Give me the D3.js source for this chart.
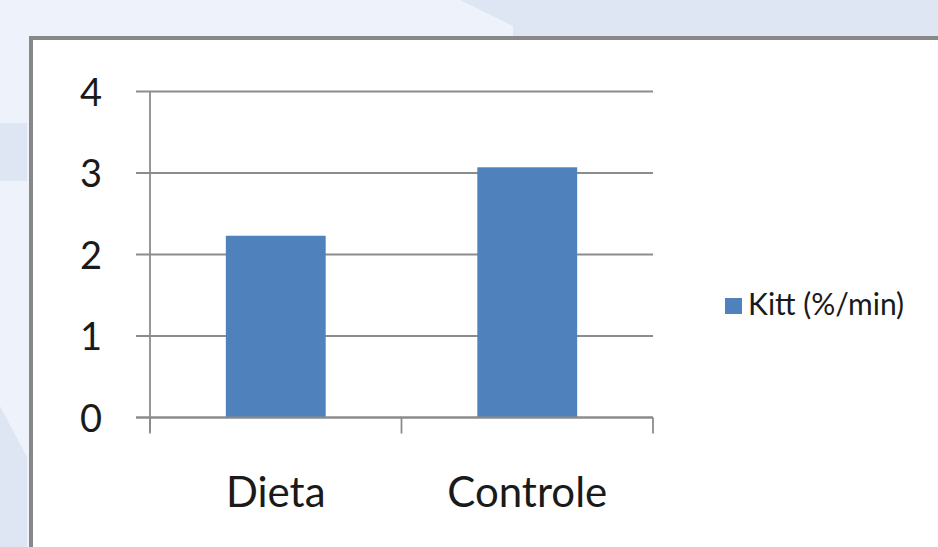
<!DOCTYPE html>
<html>
<head>
<meta charset="utf-8">
<script src="https://cdn.jsdelivr.net/npm/d3@7"></script>
<style>
  html, body { margin: 0; padding: 0; background: #eef2fa; }
  svg { display: block; }
</style>
</head>
<body>
<svg id="chart" width="938" height="547"></svg>
<script>
// Clearance rate per group
const categories = ["Dieta", "Controle"];
const kittValues = [2.23, 3.07];
const yTickValues = [0, 1, 2, 3, 4];
const seriesName = "Kitt (%/min)";

const W = 938, H = 547;
const svg = d3.select("#chart");
const FONT = "Lato, 'Open Sans', sans-serif";

// Slide backdrop: pale panels with diagonal cuts
svg.append("rect").attr("width", W).attr("height", H).attr("fill", "#eef2fa");
svg.append("path").attr("fill", "#dfe6f3")
  .attr("d", "M460,0 L938,0 L938,40 L513,40 L513,26 Z");
svg.append("rect").attr("x", 0).attr("y", 123).attr("width", 27).attr("height", 58).attr("fill", "#dfe6f3");
svg.append("path").attr("fill", "#dfe6f3")
  .attr("d", "M0,406 L27,457 L27,547 L0,547 Z");

// Chart frame
svg.append("rect").attr("x", 31).attr("y", 38).attr("width", W).attr("height", H)
  .attr("fill", "#ffffff").attr("stroke", "#888888").attr("stroke-width", 4);

// Plot area
const x0 = 150, x1 = 653, yBottom = 417.5, yTop = 91.5;

const x = d3.scaleBand().domain(categories).range([x0, x1])
  .paddingInner(0.603).paddingOuter(0.3015);
const y = d3.scaleLinear().domain([0, 4]).range([yBottom, yTop]);

// Horizontal gridlines
svg.append("g").selectAll("line").data(yTickValues).join("line")
  .attr("x1", x0 - 14).attr("x2", x1)
  .attr("y1", d => y(d)).attr("y2", d => y(d))
  .attr("stroke", "#8c8c8c").attr("stroke-width", 1.8);

// Bars
svg.append("g").selectAll("rect").data(categories).join("rect")
  .attr("x", d => x(d))
  .attr("y", (d, i) => y(kittValues[i]))
  .attr("width", x.bandwidth())
  .attr("height", (d, i) => y(0) - y(kittValues[i]))
  .attr("fill", "#4f81bd");

// Y axis
const yAxis = d3.axisLeft(y).tickValues(yTickValues).tickSize(0).tickPadding(48)
  .tickFormat(d3.format("d"));
const gy = svg.append("g").attr("transform", `translate(${x0},0)`).call(yAxis);
gy.attr("font-family", FONT);
gy.select(".domain").attr("stroke", "#8c8c8c").attr("stroke-width", 1.8)
  .attr("d", `M0,${yTop}V${yBottom + 14}`);
gy.selectAll("text").attr("font-family", FONT).attr("font-size", 38)
  .attr("fill", "#1a1a1a").attr("dy", "0.36em");

// X axis: ticks at category boundaries
const boundaries = [x0, x0 + x.step(), x1];
const gx = svg.append("g");
gx.append("line").attr("x1", x0 - 14).attr("x2", x1).attr("y1", yBottom).attr("y2", yBottom)
  .attr("stroke", "#8c8c8c").attr("stroke-width", 1.8);
gx.selectAll("line.tick").data(boundaries).join("line").attr("class", "tick")
  .attr("x1", d => d).attr("x2", d => d)
  .attr("y1", yBottom).attr("y2", yBottom + 16)
  .attr("stroke", "#8c8c8c").attr("stroke-width", 1.8);
gx.selectAll("text").data(categories).join("text")
  .attr("x", d => x(d) + x.bandwidth() / 2)
  .attr("y", 507)
  .attr("text-anchor", "middle")
  .attr("font-family", FONT).attr("font-size", 42).attr("fill", "#1a1a1a")
  .text(d => d);

// Legend
const lg = svg.append("g").attr("transform", "translate(725,298)");
lg.append("rect").attr("width", 17).attr("height", 16).attr("fill", "#4f81bd");
lg.append("text").attr("x", 23).attr("y", 17)
  .attr("font-family", FONT).attr("font-size", 30).attr("fill", "#1a1a1a")
  .text(seriesName);
</script>
</body>
</html>
